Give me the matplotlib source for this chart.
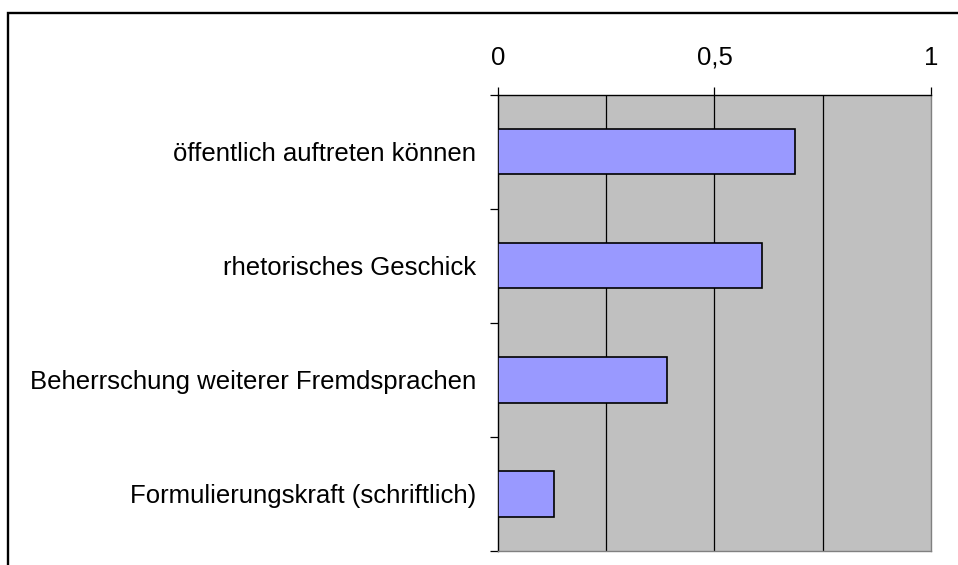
import matplotlib.pyplot as plt
import matplotlib.patches as mpatches
import numpy as np

plt.rcParams['font.family'] = ['Liberation Sans', 'DejaVu Sans']

categories = ["öffentlich auftreten können",
              "rhetorisches Geschick",
              "Beherrschung weiterer Fremdsprachen",
              "Formulierungskraft (schriftlich)"]
values = [0.685, 0.61, 0.39, 0.13]
xticks = [0, 0.5, 1]
xticklabels = ["0", "0,5", "1"]

fig = plt.figure(figsize=(9.58, 5.65), dpi=100)
ax = fig.add_axes([0.5198, 0.0253, 0.452, 0.8071])

# outer frame (right/bottom edges cut off like in the original)
fig.patches.append(mpatches.Rectangle((8.2 / 958, -0.1), 1.2, 1 - 12.8 / 565 + 0.1,
                                      transform=fig.transFigure, fill=False,
                                      edgecolor="black", linewidth=1.7, zorder=0))

ax.set_facecolor("#C0C0C0")
y = np.arange(len(categories))
ax.barh(y, values, height=0.4, color="#9999FF", edgecolor="black", linewidth=1.2, zorder=3)

ax.set_xlim(0, 1)
ax.set_ylim(len(categories) - 0.5, -0.5)

ax.xaxis.tick_top()
ax.set_xticks(xticks)
ax.set_xticklabels(xticklabels, fontsize=18.5)
ax.tick_params(axis="x", direction="out", length=5.5, width=0.9, pad=12.5, colors="black")
for gx in [0.25, 0.5, 0.75]:
    ax.axvline(gx, color="black", linewidth=0.9, zorder=1)

ax.set_yticks(y)
ax.set_yticklabels(categories, fontsize=18.5)
ax.tick_params(axis="y", which="major", length=0, pad=15.5)
ax.set_yticks(np.arange(-0.5, len(categories)), minor=True)
ax.tick_params(axis="y", which="minor", direction="out", length=5.5, width=0.9)

ax.spines["left"].set_color("black")
ax.spines["top"].set_color("black")
ax.spines["right"].set_color("#808080")
ax.spines["bottom"].set_color("#808080")
for s in ax.spines.values():
    s.set_linewidth(1.0)

fig.savefig("out.png", dpi=100)
